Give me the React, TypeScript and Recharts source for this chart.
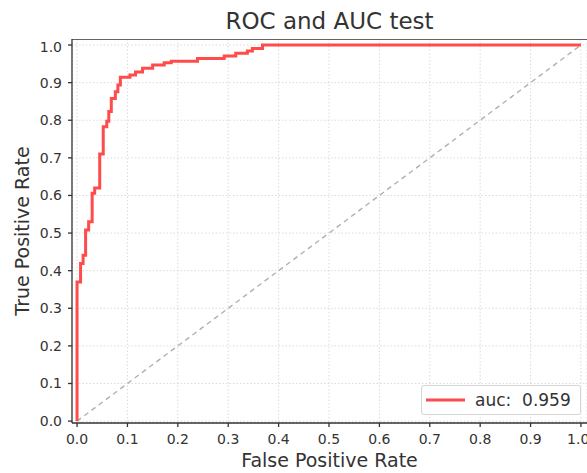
import React from 'react';
import {
  LineChart,
  Line,
  XAxis,
  YAxis,
  CartesianGrid,
  ReferenceLine,
  Legend,
} from 'recharts';

// ROC curve vertices
const fprValues = [
  0, 0, 0.007, 0.007, 0.012, 0.012, 0.017, 0.017, 0.023, 0.023,
  0.03, 0.03, 0.035, 0.035, 0.045, 0.045, 0.052, 0.052, 0.059, 0.059,
  0.063, 0.063, 0.068, 0.068, 0.076, 0.076, 0.081, 0.081, 0.086, 0.086,
  0.105, 0.105, 0.116, 0.116, 0.13, 0.13, 0.15, 0.15, 0.173, 0.173,
  0.187, 0.187, 0.239, 0.239, 0.292, 0.292, 0.315, 0.315, 0.338, 0.338,
  0.348, 0.348, 0.368, 0.368, 1.0,
];
const tprValues = [
  0, 0.37, 0.37, 0.419, 0.419, 0.441, 0.441, 0.508, 0.508, 0.53,
  0.53, 0.606, 0.606, 0.62, 0.62, 0.71, 0.71, 0.783, 0.783, 0.797,
  0.797, 0.823, 0.823, 0.858, 0.858, 0.876, 0.876, 0.894, 0.894, 0.914,
  0.914, 0.92, 0.92, 0.928, 0.928, 0.938, 0.938, 0.947, 0.947, 0.953,
  0.953, 0.957, 0.957, 0.964, 0.964, 0.971, 0.971, 0.978, 0.978, 0.984,
  0.984, 0.991, 0.991, 1.0, 1.0,
];
const chanceFpr = [0, 1];
const chanceTpr = [0, 1];
const tickValues = [0, 0.1, 0.2, 0.3, 0.4, 0.5, 0.6, 0.7, 0.8, 0.9, 1.0];
const aucLabel = 'auc:\u00a0\u00a00.959';

const rocData = fprValues.map((fpr, i) => ({ fpr, tpr: tprValues[i] }));
const chanceData = chanceFpr.map((fpr, i) => ({ fpr, tpr: chanceTpr[i] }));

const X_DOMAIN: [number, number] = [-0.01, 1.012];
const Y_DOMAIN: [number, number] = [-0.005, 1.016];
const FONT = '"DejaVu Sans", sans-serif';
const INK = '#333';
const RED = '#ff4b4b';

function YLabel({ viewBox }: any) {
  const x = viewBox.x + 22;
  const y = viewBox.y + viewBox.height / 2;
  return (
    <text
      x={x}
      y={y}
      transform={`rotate(-90, ${x}, ${y})`}
      textAnchor="middle"
      dy="0.35em"
      fontSize={19}
      fill={INK}
      fontFamily={FONT}
    >
      True Positive Rate
    </text>
  );
}

function XLabel({ viewBox }: any) {
  return (
    <text
      x={viewBox.x + viewBox.width / 2}
      y={viewBox.y + 37}
      textAnchor="middle"
      dy="0.35em"
      fontSize={19}
      fill={INK}
      fontFamily={FONT}
    >
      False Positive Rate
    </text>
  );
}

function AucLegend() {
  return (
    <div
      style={{
        display: 'flex',
        alignItems: 'center',
        height: 30,
        boxSizing: 'border-box',
        border: '1px solid #d5d5d5',
        borderRadius: 3,
        background: 'rgba(255,255,255,0.85)',
        fontFamily: FONT,
        fontSize: 17,
        color: INK,
      }}
    >
      <svg width={50} height={28} style={{ marginLeft: 3 }}>
        <line x1={1} x2={40} y1={14} y2={14} stroke={RED} strokeWidth={3} />
      </svg>
      <span>{aucLabel}</span>
    </div>
  );
}

export default function App() {
  return (
    <div
      style={{
        position: 'absolute',
        left: 0,
        top: 0,
        width: 587,
        height: 473,
        background: '#fff',
        fontFamily: FONT,
        overflow: 'hidden',
      }}
    >
      <div
        style={{
          height: 39,
          paddingLeft: 72,
          width: 515,
          textAlign: 'center',
          fontSize: 23,
          lineHeight: '42px',
          color: INK,
        }}
      >
        ROC and AUC test
      </div>
      <LineChart
        width={587}
        height={434}
        margin={{ top: 0, right: 0, bottom: 0, left: 0 }}
      >
        <CartesianGrid
          stroke="#d2d2d2"
          strokeDasharray="1.5 2"
          strokeWidth={0.8}
        />
        <XAxis
          type="number"
          dataKey="fpr"
          domain={X_DOMAIN}
          ticks={tickValues}
          tickFormatter={(v: number) => v.toFixed(1)}
          allowDataOverflow
          height={50}
          tickSize={4}
          tickMargin={7}
          stroke={INK}
          strokeWidth={1.3}
          tick={{ fill: INK, fontSize: 14, fontFamily: FONT }}
          label={<XLabel />}
        />
        <YAxis
          type="number"
          dataKey="tpr"
          domain={Y_DOMAIN}
          ticks={tickValues}
          tickFormatter={(v: number) => v.toFixed(1)}
          allowDataOverflow
          width={72}
          tickSize={4}
          tickMargin={6}
          stroke={INK}
          strokeWidth={1.3}
          tick={{ fill: INK, fontSize: 14, fontFamily: FONT }}
          label={<YLabel />}
        />
        <ReferenceLine y={Y_DOMAIN[1]} stroke={INK} strokeWidth={1.3} />
        <Line
          data={chanceData}
          dataKey="tpr"
          type="linear"
          stroke="#b0b0b0"
          strokeWidth={1.4}
          strokeDasharray="5 4"
          dot={false}
          activeDot={false}
          isAnimationActive={false}
        />
        <Line
          data={rocData}
          dataKey="tpr"
          type="linear"
          stroke={RED}
          strokeWidth={3}
          dot={false}
          activeDot={false}
          isAnimationActive={false}
        />
        <Legend
          layout="horizontal"
          verticalAlign="middle"
          align="center"
          wrapperStyle={{ left: 421, top: 346, width: 160 }}
          content={<AucLegend />}
        />
      </LineChart>
    </div>
  );
}
